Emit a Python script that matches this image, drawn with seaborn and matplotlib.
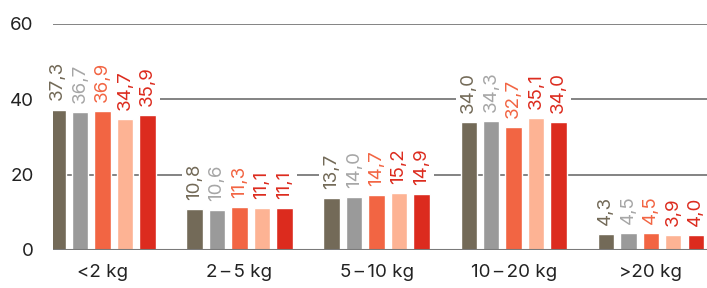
import pandas as pd
import matplotlib
matplotlib.use('Agg')
import matplotlib.pyplot as plt
import seaborn as sns

# Data
categories = ['<2 kg', '2\u2009–\u20095 kg', '5\u2009–\u200910 kg', '10\u2009–\u200920 kg', '>20 kg']
series = ['Serie 1', 'Serie 2', 'Serie 3', 'Serie 4', 'Serie 5']
s1 = [37.3, 10.8, 13.7, 34.0, 4.3]
s2 = [36.7, 10.6, 14.0, 34.3, 4.5]
s3 = [36.9, 11.3, 14.7, 32.7, 4.5]
s4 = [34.7, 11.1, 15.2, 35.1, 3.9]
s5 = [35.9, 11.1, 14.9, 34.0, 4.0]
yticks = [0, 20, 40, 60]

bar_colors = ['#736a58', '#9a9a9a', '#f26543', '#fdb394', '#dc2b1e']
label_colors = ['#736a58', '#a6a6a6', '#f26543', '#dc2b1e', '#dc2b1e']

# Long format table for seaborn
rows = []
for name, vals in zip(series, [s1, s2, s3, s4, s5]):
    for cat, v in zip(categories, vals):
        rows.append({'category': cat, 'series': name, 'value': v})
df = pd.DataFrame(rows)

sns.set_style('white')
plt.rcParams['font.family'] = ['Inter', 'DejaVu Sans']

fig = plt.figure(figsize=(7.07, 2.88), dpi=100)
ax = fig.add_axes([53 / 707, 38 / 288, 654 / 707, 226 / 288])

sns.barplot(data=df, x='category', y='value', hue='series', order=categories,
            hue_order=series, palette=bar_colors, width=0.82, gap=0.27,
            saturation=1, legend=False, ax=ax, zorder=2)

# Value labels, rotated, with a white box that breaks the gridlines
for cont, col in zip(ax.containers, label_colors):
    for bar in cont:
        h = bar.get_height()
        ax.annotate(f'{h:.1f}'.replace('.', ','),
                    (bar.get_x() + bar.get_width() / 2, h),
                    xytext=(0, 6.5), textcoords='offset points',
                    rotation=90, ha='center', va='bottom',
                    fontsize=13.5, color=col, zorder=4,
                    bbox=dict(boxstyle='square,pad=0.2', facecolor='white',
                              edgecolor='none'))

ax.set_ylim(0, 60)
ax.set_xlim(-0.36, 4.41)
ax.set_yticks(yticks)
ax.set_yticklabels([str(t) for t in yticks])
ax.set_xlabel('')
ax.set_ylabel('')

ax.yaxis.grid(True, color='#7a7a7a', linewidth=1.3)
ax.xaxis.grid(False)
ax.set_axisbelow(True)
ax.axhline(0, color='#7a7a7a', linewidth=1.5, zorder=3)
for sp in ax.spines.values():
    sp.set_visible(False)

ax.tick_params(axis='y', length=0, pad=14, labelsize=13.5, labelcolor='#222222')
ax.tick_params(axis='x', length=0, pad=10, labelsize=13.5, labelcolor='#222222')

fig.savefig('out.png', dpi=100)
